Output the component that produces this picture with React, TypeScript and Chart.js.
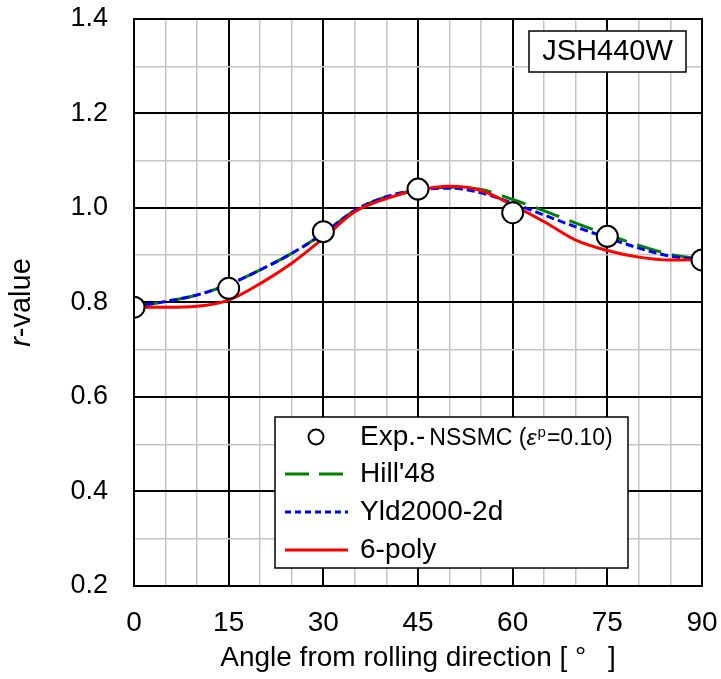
import React, { useEffect, useRef } from 'react';
import { Chart, registerables } from 'chart.js';

Chart.register(...registerables);

// ---- data ----
const angles = [0, 5, 10, 15, 20, 25, 30, 35, 40, 45, 50, 55, 60, 65, 70, 75, 80, 85, 90];
const expAngles = [0, 15, 30, 45, 60, 75, 90];
const expR = [0.79, 0.83, 0.95, 1.04, 0.99, 0.94, 0.89];
const hill48 = [0.792, 0.802, 0.816, 0.838, 0.869, 0.904, 0.946, 0.995, 1.024, 1.038, 1.044, 1.039, 1.018, 0.994, 0.968, 0.944, 0.921, 0.902, 0.891];
const yld2000 = [0.792, 0.802, 0.816, 0.838, 0.869, 0.904, 0.946, 0.995, 1.024, 1.038, 1.042, 1.032, 1.010, 0.985, 0.960, 0.937, 0.915, 0.898, 0.891];
const poly6 = [0.790, 0.790, 0.792, 0.805, 0.840, 0.883, 0.936, 0.992, 1.020, 1.038, 1.046, 1.037, 1.006, 0.971, 0.932, 0.910, 0.896, 0.890, 0.891];
const xMajorStep = 15;
const yMajorLabels = ['0.2', '0.4', '0.6', '0.8', '1.0', '1.2', '1.4'];
const xTitle = 'Angle from rolling direction [ °\u2002 ]';
const materialLabel = 'JSH440W';
const seriesNames = ['Exp.-', "Hill'48", 'Yld2000-2d', '6-poly'];

const FONT = "'Liberation Sans', Arial, sans-serif";

const pairs = (xs: number[], ys: number[]) => xs.map((x, i) => ({ x, y: ys[i] }));

const decorPlugin = {
  id: 'decor',
  afterDraw(chart: any) {
    const { ctx, chartArea } = chart;
    const { left, right, top, bottom } = chartArea;
    ctx.save();
    // frame
    ctx.strokeStyle = '#000';
    ctx.lineWidth = 2;
    ctx.strokeRect(left, top, right - left, bottom - top);

    // y title with italic r
    ctx.save();
    ctx.translate(22, (top + bottom) / 2);
    ctx.rotate(-Math.PI / 2);
    ctx.fillStyle = '#000';
    ctx.textBaseline = 'middle';
    ctx.font = `italic 29px ${FONT}`;
    const wr = ctx.measureText('r').width;
    ctx.font = `29px ${FONT}`;
    const wv = ctx.measureText('-value').width;
    const sx = -(wr + wv) / 2;
    ctx.font = `italic 29px ${FONT}`;
    ctx.textAlign = 'left';
    ctx.fillText('r', sx, 0);
    ctx.font = `29px ${FONT}`;
    ctx.fillText('-value', sx + wr, 0);
    ctx.restore();

    // material label box
    ctx.fillStyle = '#fff';
    ctx.fillRect(529, 31, 157, 41);
    ctx.strokeStyle = '#000';
    ctx.lineWidth = 1.5;
    ctx.strokeRect(529, 31, 157, 41);
    ctx.fillStyle = '#000';
    ctx.font = `29px ${FONT}`;
    ctx.textAlign = 'center';
    ctx.textBaseline = 'middle';
    ctx.fillText(materialLabel, 607.5, 52);

    // legend box
    const lx = 275, ly = 417, lw = 353, lh = 151;
    ctx.fillStyle = '#fff';
    ctx.fillRect(lx, ly, lw, lh);
    ctx.strokeStyle = '#000';
    ctx.lineWidth = 1.5;
    ctx.strokeRect(lx, ly, lw, lh);
    const rows = [437, 474, 512, 550];
    const x0 = 285, x1 = 348, tx = 360;
    // exp circle
    ctx.beginPath();
    ctx.arc(316, rows[0], 7.5, 0, Math.PI * 2);
    ctx.fillStyle = '#fff';
    ctx.fill();
    ctx.lineWidth = 2;
    ctx.strokeStyle = '#000';
    ctx.stroke();
    // lines
    const lineStyles = [
      { color: '#008000', dash: [24, 10] },
      { color: '#0000ff', dash: [6, 4] },
      { color: '#ff0000', dash: [] },
    ];
    lineStyles.forEach((s, i) => {
      ctx.beginPath();
      ctx.setLineDash(s.dash);
      ctx.strokeStyle = s.color;
      ctx.lineWidth = 3;
      ctx.moveTo(x0, rows[i + 1]);
      ctx.lineTo(x1, rows[i + 1]);
      ctx.stroke();
    });
    ctx.setLineDash([]);
    // texts
    ctx.fillStyle = '#000';
    ctx.textAlign = 'left';
    ctx.textBaseline = 'middle';
    ctx.font = `28px ${FONT}`;
    ctx.fillText(seriesNames[0], tx, rows[0]);
    let cx = tx + ctx.measureText(seriesNames[0]).width + 4;
    ctx.font = `23px ${FONT}`;
    ctx.fillText('NSSMC (', cx, rows[0] + 2);
    cx += ctx.measureText('NSSMC (').width;
    ctx.font = `italic 23px ${FONT}`;
    ctx.fillText('ε', cx, rows[0] + 2);
    cx += ctx.measureText('ε').width + 1;
    ctx.font = `15px ${FONT}`;
    ctx.fillText('p', cx, rows[0] - 4);
    cx += ctx.measureText('p').width + 1;
    ctx.font = `23px ${FONT}`;
    ctx.fillText('=0.10)', cx, rows[0] + 2);
    ctx.font = `28px ${FONT}`;
    for (let i = 1; i < 4; i++) ctx.fillText(seriesNames[i], tx, rows[i]);
    ctx.restore();
  },
};

export default function App() {
  const ref = useRef<HTMLCanvasElement | null>(null);
  useEffect(() => {
    if (!ref.current) return;
    const chart = new Chart(ref.current, {
      type: 'scatter',
      data: {
        datasets: [
          {
            label: 'Exp.',
            data: pairs(expAngles, expR),
            showLine: false,
            pointRadius: 10.5,
            pointBackgroundColor: '#fff',
            pointBorderColor: '#000',
            pointBorderWidth: 2,
            order: 0,
          },
          {
            label: '6-poly',
            data: pairs(angles, poly6),
            showLine: true,
            borderColor: '#ff0000',
            borderWidth: 3,
            pointRadius: 0,
            cubicInterpolationMode: 'monotone',
            order: 1,
          },
          {
            label: 'Yld2000-2d',
            data: pairs(angles, yld2000),
            showLine: true,
            borderColor: '#0000ff',
            borderWidth: 3,
            borderDash: [8, 4],
            pointRadius: 0,
            cubicInterpolationMode: 'monotone',
            order: 2,
          },
          {
            label: "Hill'48",
            data: pairs(angles, hill48),
            showLine: true,
            borderColor: '#008000',
            borderWidth: 3,
            borderDash: [25, 11],
            pointRadius: 0,
            cubicInterpolationMode: 'monotone',
            order: 3,
          },
        ],
      },
      options: {
        responsive: false,
        animation: false,
        layout: { autoPadding: false, padding: { left: 0, right: 19, top: 19, bottom: 0 } },
        plugins: { legend: { display: false }, tooltip: { enabled: false } },
        scales: {
          x: {
            type: 'linear',
            min: 0,
            max: 90,
            afterFit: (s: any) => { s.height = 93; s.paddingLeft = 0; s.paddingRight = 0; },
            ticks: {
              stepSize: 5,
              autoSkip: false,
              maxRotation: 0,
              padding: 20,
              color: '#000',
              font: { family: FONT, size: 28 },
              callback: (v: any) => (Math.round(v) % xMajorStep === 0 ? String(v) : ''),
            },
            grid: {
              drawTicks: false,
              color: (c: any) => (Math.round(c.tick.value) % xMajorStep === 0 ? '#000' : '#c4c4c4'),
              lineWidth: (c: any) => (Math.round(c.tick.value) % xMajorStep === 0 ? 2 : 1.5),
            },
            border: { display: false },
            title: {
              display: true,
              text: xTitle,
              color: '#000',
              font: { family: FONT, size: 28 },
              padding: { top: 0, bottom: 4 },
            },
          },
          y: {
            type: 'linear',
            min: 0.2,
            max: 1.4,
            afterFit: (s: any) => { s.width = 134; s.paddingTop = 0; s.paddingBottom = 0; },
            ticks: {
              stepSize: 0.1,
              autoSkip: false,
              padding: 26,
              color: '#000',
              font: { family: FONT, size: 27 },
              callback: (v: any) => {
                const k = Math.round(v * 10);
                return k % 2 === 0 ? yMajorLabels[(k - 2) / 2] : '';
              },
            },
            grid: {
              drawTicks: false,
              color: (c: any) => (Math.round(c.tick.value * 10) % 2 === 0 ? '#000' : '#c4c4c4'),
              lineWidth: (c: any) => (Math.round(c.tick.value * 10) % 2 === 0 ? 2 : 1.5),
            },
            border: { display: false },
          },
        },
      },
      plugins: [decorPlugin],
    } as any);
    return () => chart.destroy();
  }, []);
  return (
    <div style={{ position: 'absolute', left: 0, top: 0, width: 721, height: 679, background: '#fff' }}>
      <canvas ref={ref} width={721} height={679} style={{ display: 'block' }} />
    </div>
  );
}
